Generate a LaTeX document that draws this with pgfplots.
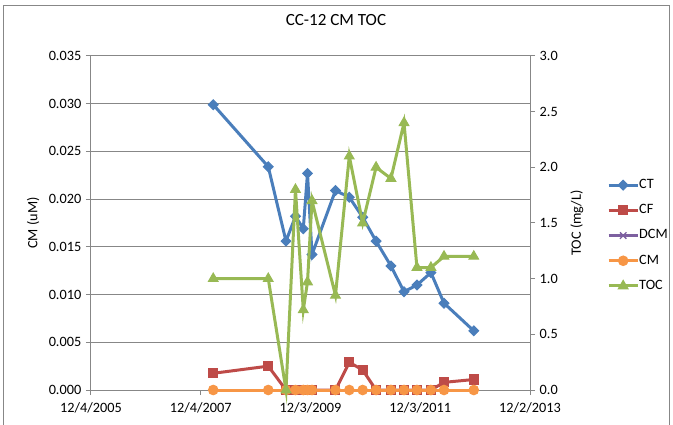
\documentclass[border=0pt]{standalone}
\usepackage{fontspec}
\setmainfont{Carlito}
\usepackage{pgfplots}
\usepackage{pgfplotstable}
\pgfplotsset{compat=1.18}

\definecolor{ctblue}{HTML}{4A7EBB}
\definecolor{cfred}{HTML}{BE4B48}
\definecolor{dcmpurple}{HTML}{7D60A0}
\definecolor{cmorange}{HTML}{F79646}
\definecolor{tocgreen}{HTML}{98B954}
\definecolor{axgray}{HTML}{878787}

% day = days after 12/4/2005
\pgfplotstableread{
day   CT     CF      DCM CM TOC
813   0.0299 0.00175 0   0  1.00
1179  0.0234 0.0025  0   0  1.00
1297  0.0156 0       0   0  0.00
1360  0.0182 0       0   0  1.80
1412  0.0169 0       0   0  0.72
1440  0.0227 0       0   0  0.97
1470  0.0142 0       0   0  1.70
1626  0.0209 0       0   0  0.85
1718  0.0202 0.0029  0   0  2.10
1807  0.0181 0.0021  0   0  1.50
1896  0.0156 0       0   0  2.00
1995  0.0130 0       0   0  1.90
2082  0.0103 0       0   0  2.40
2168  0.0110 0       0   0  1.10
2261  0.0123 0       0   0  1.10
2348  0.0091 0.0008  0   0  1.20
2546  0.0062 0.0011  0   0  1.20
}\cmdata

\pgfplotsset{
  chartbase/.style={
    scale only axis, width=329.25pt, height=250.5pt,
    xmin=0, xmax=2920, clip=false,
    axis line style={draw=axgray, line width=0.75pt},
    tick align=outside, major tick length=3.75pt,
    tick style={draw=axgray, line width=0.75pt},
    scaled y ticks=false,
    /pgf/number format/assume math mode=true,
    every axis plot/.append style={line width=2.25pt},
    legend image code/.code={\draw[mark repeat=2,mark phase=2]
      plot coordinates {(0pt,0pt) (10.9pt,0pt) (21.8pt,0pt)};},
  },
  ctstyle/.style={ctblue, mark=square*, mark size=2.6pt,
    mark options={rotate=45, line width=0.75pt}},
  cfstyle/.style={cfred, mark=square*, mark size=3.4pt,
    mark options={line width=0.75pt}},
  dcmstyle/.style={dcmpurple, mark=x, mark size=3.4pt,
    mark options={line width=1pt}},
  cmstyle/.style={cmorange, mark=*, mark size=3.6pt,
    mark options={line width=0.75pt}},
  tocstyle/.style={tocgreen, mark=triangle*, mark size=4.2pt,
    mark options={line width=0.75pt}},
}

\begin{document}
\begin{tikzpicture}[font=\fontsize{10.7}{12.8}\selectfont]
\begin{axis}[chartbase, name=main,
    ymin=0, ymax=0.035,
    axis y line*=left, axis x line*=bottom,
    xtick={0,730,1460,2190,2920},
    xticklabels={12/4/2005,12/4/2007,12/3/2009,12/3/2011,12/2/2013},
    xticklabel style={yshift=-2.5pt},
    ytick={0,0.005,0.010,0.015,0.020,0.025,0.030,0.035},
    yticklabel style={/pgf/number format/.cd, fixed, fixed zerofill, precision=3},
    ymajorgrids, grid style={draw=axgray, line width=0.75pt},
    ylabel={CM (uM)},
    ylabel style={at={(axis description cs:-0.132,0.5)}, anchor=center},
    title={CC-12 CM TOC},
    title style={at={(axis description cs:0.558,1.084)}, anchor=center,
      font=\fontsize{12.8}{15}\selectfont},
  ]
  \addplot[ctstyle] table[x=day, y=CT] {\cmdata};
  \addplot[cfstyle] table[x=day, y=CF] {\cmdata};
  \addplot[dcmstyle] table[x=day, y=DCM] {\cmdata};
  \addplot[cmstyle] table[x=day, y=CM] {\cmdata};
\end{axis}
\begin{axis}[chartbase,
    ymin=0, ymax=3,
    axis y line*=right, axis x line=none,
    ytick={0,0.5,1,1.5,2,2.5,3},
    yticklabel style={/pgf/number format/.cd, fixed, fixed zerofill, precision=1},
    ylabel={TOC (mg/L)},
    ylabel style={at={(axis description cs:1.107,0.5)}, anchor=center},
    legend style={at={(axis description cs:1.166,0.64)}, anchor=north west,
      draw=none, fill=none, row sep=9.9pt,
      nodes={inner sep=0pt, text height=7pt, text depth=2pt, xshift=2pt},
      font=\fontsize{10.7}{12.8}\selectfont},
    legend cell align=left,
  ]
  \addlegendimage{ctstyle}
  \addlegendentry{CT}
  \addlegendimage{cfstyle}
  \addlegendentry{CF}
  \addlegendimage{dcmstyle}
  \addlegendentry{DCM}
  \addlegendimage{cmstyle}
  \addlegendentry{CM}
  \addplot[tocstyle] table[x=day, y=TOC] {\cmdata};
  \addlegendentry{TOC}
\end{axis}
\draw[axgray, line width=0.75pt]
  ([shift={(-65.25pt,288pt)}]main.south west) rectangle
  ([shift={(433.5pt,-30pt)}]main.south west);
\pgfresetboundingbox
\useasboundingbox ([shift={(-68.25pt,-25.5pt)}]main.south west) rectangle
  ([shift={(436.5pt,292.5pt)}]main.south west);
\end{tikzpicture}
\end{document}
